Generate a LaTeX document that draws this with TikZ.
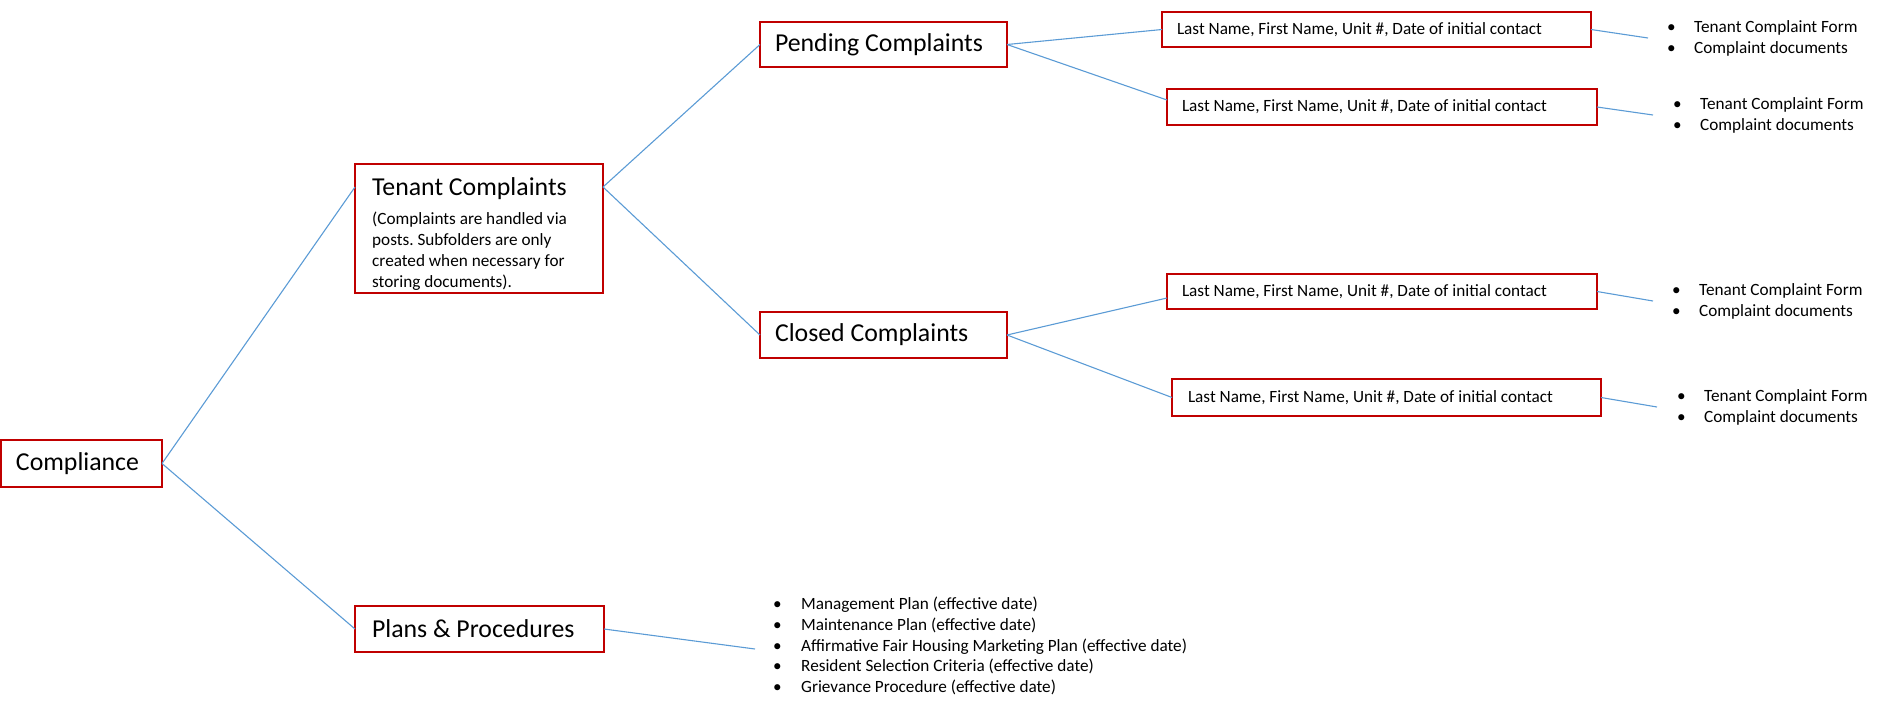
\documentclass[tikz,border=0pt]{standalone}
\usepackage{fontspec}
\setmainfont{Carlito}
\usetikzlibrary{calc}
\definecolor{boxred}{RGB}{192,0,0}
\definecolor{linkblue}{RGB}{91,155,213}
\frenchspacing
\begin{document}
\begin{tikzpicture}[x=1pt,y=-1pt,
  box/.style={draw=boxred, line width=2pt, rectangle, anchor=north west, outer sep=0pt, inner ysep=0pt},
  big/.style={font=\fontsize{25.8}{31}\selectfont},
  small/.style={font=\fontsize{17.2}{21}\selectfont},
  link/.style={draw=linkblue, line width=1.1pt},
  blist/.style={anchor=west, align=left, inner ysep=0pt, font=\fontsize{17.2}{21}\selectfont}]
\useasboundingbox (0,0) rectangle (1880,702);

% main boxes
\node[box, big, inner xsep=15pt, minimum width=161pt, minimum height=47pt] (comp) at (1,440) {\makebox[131pt][l]{Compliance}};
\node[box, minimum width=248pt, minimum height=129pt, inner sep=0pt] (ten) at (355,164) {};
\node[big, anchor=base west, inner sep=0pt] (tentitle) at (372,195.4) {Tenant Complaints};
\node[small, anchor=north west, align=left, inner sep=0pt] (tenbody) at (372,212) {(Complaints are handled via\\posts. Subfolders are only\\created when necessary for\\storing documents).};
\node[box, big, inner xsep=15pt, minimum width=247pt, minimum height=45pt] (pend) at (760,22) {\makebox[217pt][l]{Pending Complaints}};
\node[box, big, inner xsep=15pt, minimum width=247pt, minimum height=46pt] (clos) at (760,312) {\makebox[217pt][l]{Closed Complaints}};
\node[box, big, inner xsep=17pt, minimum width=249pt, minimum height=46pt] (plans) at (355,606) {\makebox[215pt][l]{Plans \& Procedures}};

% name boxes
\node[box, small, inner xsep=15pt, minimum width=429pt, minimum height=35pt] (ln1) at (1162,12) {\makebox[399pt][l]{Last Name, First Name, Unit \#, Date of initial contact}};
\node[box, small, inner xsep=15pt, minimum width=430pt, minimum height=36pt] (ln2) at (1167,89) {\makebox[400pt][l]{Last Name, First Name, Unit \#, Date of initial contact}};
\node[box, small, inner xsep=15pt, minimum width=430pt, minimum height=35pt] (ln3) at (1167,274) {\makebox[400pt][l]{Last Name, First Name, Unit \#, Date of initial contact}};
\node[box, small, inner xsep=16pt, minimum width=429pt, minimum height=37pt] (ln4) at (1172,379) {\makebox[397pt][l]{Last Name, First Name, Unit \#, Date of initial contact}};

% bullet lists
\node[blist, inner xsep=19pt] (l1) at (1648,38) {\makebox[27pt][l]{•}Tenant Complaint Form\\\makebox[27pt][l]{•}Complaint documents};
\node[blist, inner xsep=20pt] (l2) at (1653,115) {\makebox[27pt][l]{•}Tenant Complaint Form\\\makebox[27pt][l]{•}Complaint documents};
\node[blist, inner xsep=19pt] (l3) at (1653,301) {\makebox[27pt][l]{•}Tenant Complaint Form\\\makebox[27pt][l]{•}Complaint documents};
\node[blist, inner xsep=20pt] (l4) at (1657,407) {\makebox[27pt][l]{•}Tenant Complaint Form\\\makebox[27pt][l]{•}Complaint documents};
\node[blist, inner xsep=18pt, font=\fontsize{17.2}{20.8}\selectfont] (pl) at (755,646) {%
\makebox[28pt][l]{•}Management Plan (effective date)\\
\makebox[28pt][l]{•}Maintenance Plan (effective date)\\
\makebox[28pt][l]{•}Affirmative Fair Housing Marketing Plan (effective date)\\
\makebox[28pt][l]{•}Resident Selection Criteria (effective date)\\
\makebox[28pt][l]{•}Grievance Procedure (effective date)};

% connectors
\coordinate (tenL) at ($(ten.north west)+(0,23)$);
\coordinate (tenR) at ($(ten.north east)+(0,23)$);
\draw[link] (comp.east) -- (tenL);
\draw[link] (comp.east) -- (plans.west);
\draw[link] (tenR) -- (pend.west);
\draw[link] (tenR) -- (clos.west);
\draw[link] (pend.east) -- (ln1.west);
\draw[link] (pend.east) -- ($(ln2.west)+(0,-7)$);
\draw[link] (clos.east) -- ($(ln3.west)+(0,6.5)$);
\draw[link] (clos.east) -- (ln4.west);
\draw[link] (ln1.east) -- (l1.west);
\draw[link] (ln2.east) -- (l2.west);
\draw[link] (ln3.east) -- (l3.west);
\draw[link] (ln4.east) -- (l4.west);
\draw[link] (plans.east) -- ($(pl.west)+(0,3)$);
\end{tikzpicture}
\end{document}
